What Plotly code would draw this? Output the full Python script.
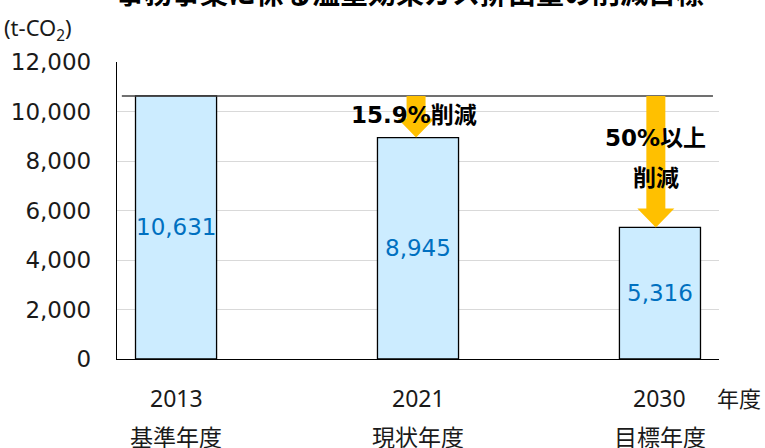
import plotly.graph_objects as go

# Emissions by fiscal year (t-CO2)
years = ["2013", "2021", "2030"]
year_roles = ["基準年度", "現状年度", "目標年度"]
emissions = [10631, 8945, 5316]
reduction_labels = ["15.9%削減", "50%以上", "削減"]
y_ticks = [0, 2000, 4000, 6000, 8000, 10000, 12000]

x_pos = list(range(len(years)))
base = emissions[0]

PX_PER_X = 242.0          # pixels per category step
PX_PER_Y = 297.0 / 12000  # pixels per t-CO2

fig = go.Figure()
fig.add_trace(go.Bar(
    x=x_pos, y=emissions, width=0.335,
    marker=dict(color="#CCECFF", line=dict(color="#000000", width=1.3)),
    hoverinfo="skip", showlegend=False,
))

font_num = "DejaVu Sans, Verdana, sans-serif"
font_jp = "Noto Sans, Noto Sans CJK JP, sans-serif"
font_bold = "DejaVu Sans, Noto Sans CJK JP, sans-serif"

shapes = []
# baseline reference line at the 2013 level
shapes.append(dict(type="line", xref="x", yref="y",
                   x0=-0.224, x1=2.219, y0=base, y1=base,
                   line=dict(color="#404040", width=1.5), layer="above"))


def arrow_path(xc, y_top, y_tip):
    sw = 9.5 / PX_PER_X
    hw = 18.5 / PX_PER_X
    hl = 19 / PX_PER_Y
    yh = y_tip + hl
    pts = [(xc - sw, y_top), (xc + sw, y_top), (xc + sw, yh), (xc + hw, yh),
           (xc, y_tip), (xc - hw, yh), (xc - sw, yh)]
    return "M " + " L ".join(f"{px},{py}" for px, py in pts) + " Z"


arrow_x = [x_pos[1] - 0.008, x_pos[2] - 0.017]
for xc, v in zip(arrow_x, emissions[1:]):
    shapes.append(dict(type="path", xref="x", yref="y",
                       path=arrow_path(xc, base, v),
                       fillcolor="#FFC000", line=dict(width=0), layer="above"))


def label(text, x, y, font, xref="paper", yref="paper", **kw):
    d = dict(x=x, y=y, xref=xref, yref=yref, text=text, showarrow=False,
             xanchor="center", yanchor="middle", font=font)
    d.update(kw)
    return d


annotations = []
# values inside the bars
for xi, v in zip(x_pos, emissions):
    annotations.append(label(f"{v:,}", xi, v / 2,
                             dict(family=font_num, size=23, color="#0070C0"),
                             xref="x", yref="y"))
# category labels
jp_font = dict(family=font_jp, size=23, color="#1a1a1a")
for xi, yr, role in zip(x_pos, years, year_roles):
    annotations.append(label(yr, xi, (359 - 398) / 297, jp_font, xref="x"))
    annotations.append(label(role, xi, (359 - 437) / 297, jp_font, xref="x"))
annotations.append(label("年度", (739 - 117) / 602, (359 - 398) / 297,
                         dict(family=font_jp, size=22, color="#1a1a1a")))
# reduction callouts
bold_font = dict(family=font_bold, size=23, color="#000000")
annotations.append(label("<b>" + reduction_labels[0] + "</b>", arrow_x[0] - 0.01,
                         (359 - 115) / PX_PER_Y, bold_font, xref="x", yref="y"))
annotations.append(label("<b>" + reduction_labels[1] + "</b>", arrow_x[1],
                         (359 - 138) / PX_PER_Y, bold_font, xref="x", yref="y"))
annotations.append(label("<b>" + reduction_labels[2] + "</b>", arrow_x[1],
                         (359 - 178) / PX_PER_Y, bold_font, xref="x", yref="y"))
# unit label
annotations.append(label("(t-CO<sub>2</sub>)", (38 - 117) / 602, (359 - 29) / 297,
                         dict(family=font_jp, size=22, color="#1a1a1a")))
# chart title
annotations.append(label("<b>ー事務事業に係る温室効果ガス排出量の削減目標</b>",
                         (396 - 117) / 602, 1.1615,
                         dict(family="Noto Sans CJK JP, sans-serif", size=28,
                              color="#000000"), yanchor="bottom"))

fig.update_layout(
    width=765, height=448,
    margin=dict(l=117, r=46, t=62, b=89),
    paper_bgcolor="white", plot_bgcolor="white",
    shapes=shapes, annotations=annotations,
    xaxis=dict(range=[-0.244, 2.244], showticklabels=False, showgrid=False,
               zeroline=False, showline=True, linecolor="#000000", linewidth=1.3,
               ticks="", fixedrange=True),
    yaxis=dict(range=[0, 12000], tickvals=y_ticks, tickformat=",",
               showgrid=True, gridcolor="#D9D9D9", gridwidth=1,
               zeroline=False, showline=True, linecolor="#000000", linewidth=1.3,
               ticks="", ticklabelstandoff=20,
               tickfont=dict(family=font_num, size=23, color="#1a1a1a"),
               fixedrange=True),
)

fig.write_html("out.html")
